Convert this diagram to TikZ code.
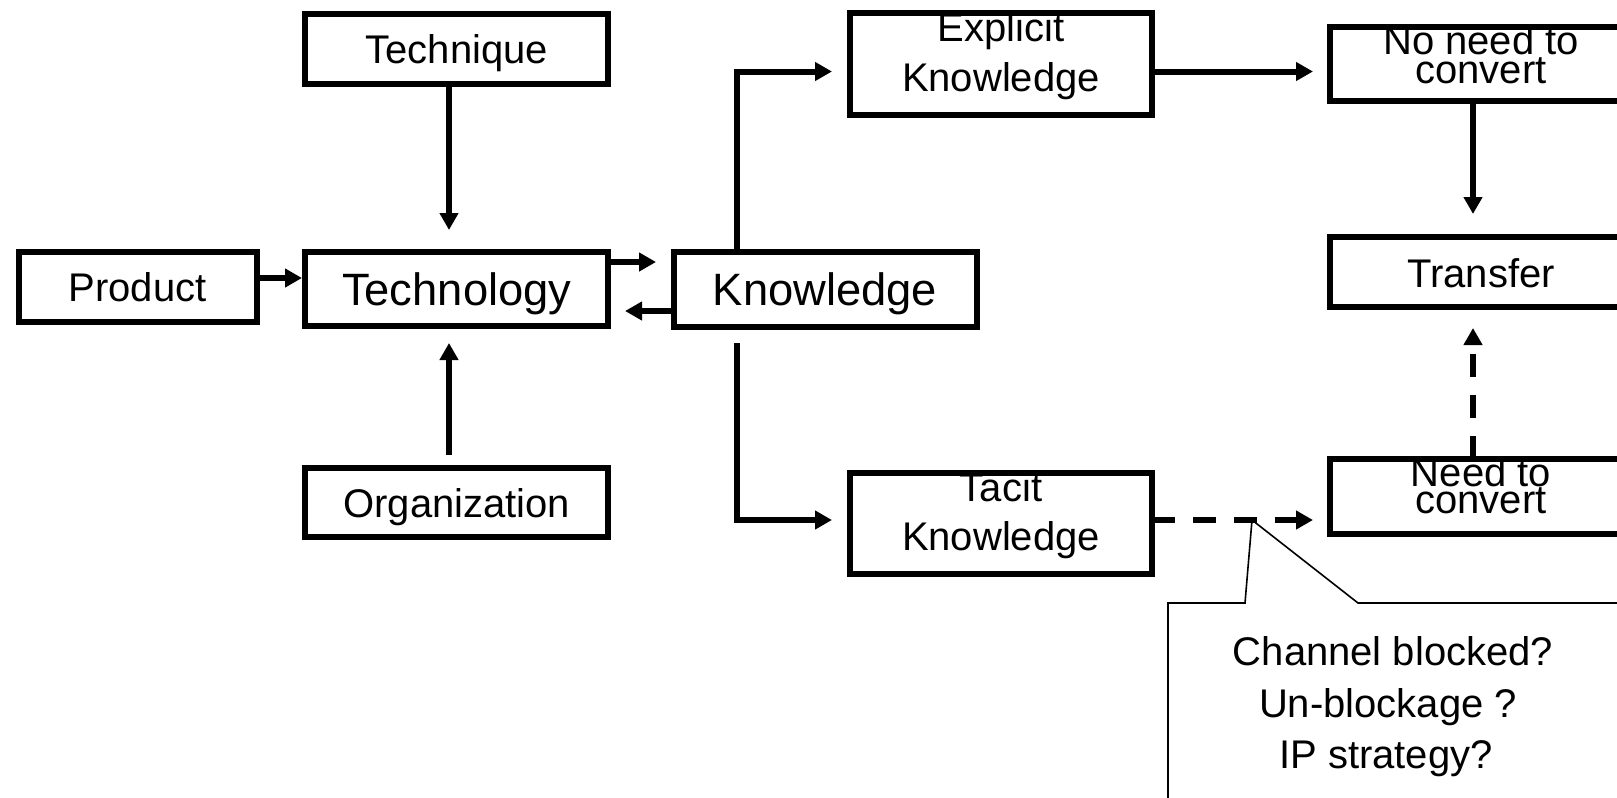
\documentclass[tikz,border=0pt]{standalone}
\usepackage{fontspec}
\setmainfont{Liberation Sans}
\usetikzlibrary{arrows.meta,calc}
\begin{document}
\begin{tikzpicture}[x=0.75pt,y=-0.75pt,
  box/.style={draw=black, line width=4.5pt, fill=white, inner sep=0pt, outer sep=0pt,
    font=\fontsize{30}{36}\selectfont, text height=22.5pt, text depth=0pt},
  bigbox/.style={box, font=\fontsize{34}{40}\selectfont, text height=24pt},
  lbl/.style={inner sep=0pt, outer sep=0pt, font=\fontsize{30}{36}\selectfont, anchor=base},
  arr/.style={line width=4.5pt, -{Triangle[length=12.75pt,width=13.5pt]}},
  dasharr/.style={arr, dash pattern=on 17.25pt off 13.5pt},
  note/.style={line width=1.2pt}
]
\useasboundingbox (0,0) rectangle (1617,797);
\clip (0,0) rectangle (1617,797);
\fill[white] (0,0) rectangle (1617,797);

% left column
\node[box, minimum width=227.6pt, minimum height=52.5pt] (technique) at (456.75,48.5) {Technique};
\node[box, minimum width=178.5pt, minimum height=52.5pt] (product) at (137.5,286.5) {Product};
\node[bigbox, minimum width=227.6pt, minimum height=55.5pt] (technology) at (456.75,289) {Technology};
\node[box, minimum width=227.6pt, minimum height=51.75pt] (organization) at (456.75,502) {Organization};
\node[bigbox, minimum width=227.25pt, minimum height=56.25pt] (knowledge) at (825,289) {Knowledge};

% knowledge types
\node[box, minimum width=226.5pt, minimum height=76.5pt] (explicit) at (1001,63.5) {};
\node[box, minimum width=226.5pt, minimum height=75.75pt] (tacit) at (1001,523) {};
\node[lbl] (explicit-1) at ($(explicit.center)+(0,-22)$) {Explicit};
\node[lbl] (explicit-2) at ($(explicit.center)+(0,27.5)$) {Knowledge};
\node[lbl] (tacit-1) at ($(tacit.center)+(0,-22)$) {Tacit};
\node[lbl] (tacit-2) at ($(tacit.center)+(0,27.5)$) {Knowledge};

% right column
\node[box, minimum width=226.5pt, minimum height=55.5pt] (noneed) at (1481,64) {};
\node[box, minimum width=226.5pt, minimum height=52.5pt] (transfer) at (1481,272) {Transfer};
\node[box, minimum width=226.5pt, minimum height=56.25pt] (need) at (1481,496) {};
\node[lbl] (noneed-1) at ($(noneed.center)+(0,-10)$) {No need to};
\node[lbl] (noneed-2) at ($(noneed.center)+(0,19)$) {convert};
\node[lbl] (need-1) at ($(need.center)+(0,-10)$) {Need to};
\node[lbl] (need-2) at ($(need.center)+(0,17)$) {convert};

% connectors
\draw[arr, shorten >=16.5pt] ($(technique.south)+(-7.75,0)$) -- ($(technology.north)+(-7.75,0)$);
\draw[arr, shorten <=9.4pt, shorten >=12.75pt] ($(organization.north)+(-7.75,0)$) -- ($(technology.south)+(-7.75,0)$);
\draw[arr, shorten >=2.25pt] ($(product.east)+(0,-8.5)$) -- ($(technology.west)+(0,-11)$);
\draw[arr, shorten >=13.1pt] ($(technology.east)+(0,-27)$) -- ($(knowledge.west)+(0,-27)$);
\draw[arr, shorten >=12.4pt] ($(knowledge.west)+(0,22)$) -- ($(technology.east)+(0,22)$);
\draw[arr, shorten >=13.5pt] ($(knowledge.north)+(-88.5,0)$) |- ($(explicit.west)+(0,8)$);
\draw[arr, shorten <=12.4pt, shorten >=13.5pt] ($(knowledge.south)+(-88.5,0)$) |- ($(tacit.west)+(0,-3)$);
\draw[arr, shorten >=12.75pt] ($(explicit.east)+(0,8)$) -- ($(noneed.west)+(0,7.5)$);
\draw[arr, shorten >=17.25pt] ($(noneed.south)+(-8,0)$) -- ($(transfer.north)+(-8,0)$);
\draw[dasharr, shorten >=12.75pt] ($(tacit.east)+(0,-3)$) -- ($(need.west)+(0,24)$);
\draw[dasharr, shorten >=15.75pt] ($(need.north)+(-8,0)$) -- ($(transfer.south)+(-8,0)$);

% callout with its questions
\coordinate (ctip) at (1252,520);
\draw[note] (1168,810) -- (1168,603) -- (1245,603) -- (ctip) -- (1358,603) -- (1630,603);
\node[lbl] (callout-1) at (1393,665) {Channel blocked?};
\node[lbl] (callout-2) at (1388,717) {Un-blockage ?};
\node[lbl] (callout-3) at (1386,768) {IP strategy?};
\end{tikzpicture}
\end{document}
